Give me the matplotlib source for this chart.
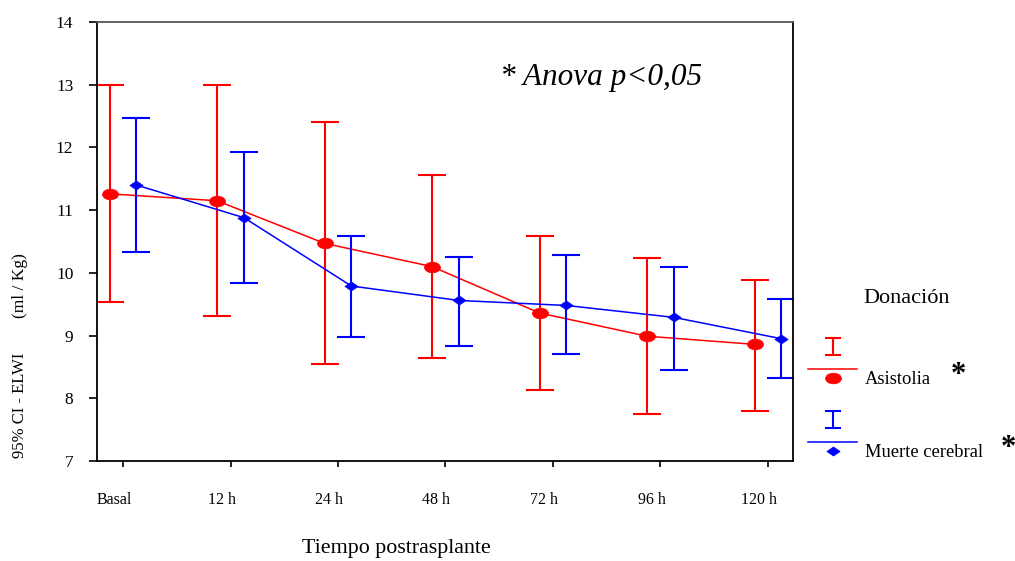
import numpy as np
import matplotlib
matplotlib.use('Agg')
import matplotlib.pyplot as plt
import matplotlib.transforms as mtr
from matplotlib.path import Path

plt.rcParams['font.family'] = ['Liberation Serif', 'DejaVu Serif']

categories = ['Basal', '12 h', '24 h', '48 h', '72 h', '96 h', '120 h']

asis_mean = [11.26, 11.15, 10.47, 10.10, 9.36, 8.99, 8.86]
asis_low = [9.54, 9.32, 8.54, 8.64, 8.14, 7.75, 7.80]
asis_high = [13.00, 13.00, 12.41, 11.56, 10.59, 10.24, 9.89]

muer_mean = [11.40, 10.88, 9.79, 9.56, 9.48, 9.29, 8.95]
muer_low = [10.33, 9.84, 8.98, 8.84, 8.70, 8.45, 8.33]
muer_high = [12.47, 11.93, 10.59, 10.25, 10.28, 10.10, 9.58]

red = '#ff0000'
blue = '#0000ff'

# custom wide markers
ell = Path.unit_circle()
ell = Path(ell.vertices * [1.5, 1.0], ell.codes)
dia = Path([(-1.45, 0), (0, 1), (1.45, 0), (0, -1), (-1.45, 0)],
           [Path.MOVETO, Path.LINETO, Path.LINETO, Path.LINETO, Path.CLOSEPOLY])

fig = plt.figure(figsize=(10.15, 5.61), dpi=100)
ax = fig.add_axes([97/1015, 1-461/561, (793-97)/1015, (461-22)/561])

x = np.arange(len(categories))
xr = x - 0.125
xb = x + 0.125

def draw(xs, m, lo, hi, c, mk, ms):
    m = np.array(m); lo = np.array(lo); hi = np.array(hi)
    ax.errorbar(xs, m, yerr=[m-lo, hi-m], fmt='none', ecolor=c, elinewidth=1.5,
                capsize=10, capthick=1.5)
    ax.plot(xs, m, color=c, lw=1.1, marker=mk, ms=ms, mfc=c, mec=c, mew=0.5)

draw(xr, asis_mean, asis_low, asis_high, red, ell, 11.5)
draw(xb, muer_mean, muer_low, muer_high, blue, dia, 9.5)

ax.set_xlim(-0.242, 6.233)
ax.set_ylim(7, 14)
ax.set_xticks(x)
ax.set_xticklabels(categories, fontsize=11.5)
ax.set_yticks(range(7, 15))
ax.tick_params(axis='x', direction='out', length=4, pad=18, width=1.2)
ax.tick_params(axis='y', direction='out', length=6, pad=11, width=1.2, labelsize=12.5)
shift = mtr.ScaledTranslation(-9/100, 0, fig.dpi_scale_trans)
for lbl in ax.get_xticklabels():
    lbl.set_transform(lbl.get_transform() + shift)
for s in ax.spines.values():
    s.set_linewidth(1.3)
ax.spines['top'].set_color('#555555')

fig.text(20/1015, 1-458/561, '95% CI - ELWI', rotation=90,
         ha='center', va='bottom', fontsize=12)
fig.text(20/1015, 1-318/561, '(ml / Kg)', rotation=90,
         ha='center', va='bottom', fontsize=12.5)
fig.text(396/1015, 1-549/561, 'Tiempo postrasplante', ha='center', va='center', fontsize=15.8)
fig.text(500/1015, 1-77/561, '* Anova p<0,05', ha='left', va='center',
         fontsize=22.5, style='italic')

# legend drawn in pixel coordinates
lg = fig.add_axes([0, 0, 1, 1], zorder=5)
lg.set_xlim(0, 1015)
lg.set_ylim(561, 0)
lg.axis('off')
lg.patch.set_alpha(0)
lg.text(863, 298, 'Donación', fontsize=16, va='center', ha='left')
for y0, c, mk, ms, lab, sx in [(337, red, ell, 11.5, 'Asistolia', 958),
                               (410, blue, dia, 9.5, 'Muerte cerebral', 1008)]:
    lg.errorbar([833], [y0 + 9], yerr=[[8.5]], fmt='none', ecolor=c, elinewidth=1.5,
                capsize=6, capthick=1.5)
    lg.plot([808, 857], [y0 + 32, y0 + 32], color=c, lw=1.1)
    lg.plot([833], [y0 + 41], marker=mk, ms=ms, color=c, mew=0.5)
    lg.text(865, y0 + 42, lab, fontsize=13.3, va='center', ha='left')
    lg.text(sx, y0 + 38, '*', fontsize=22, fontweight='bold', va='center', ha='center')

fig.savefig('out.png', dpi=100)
